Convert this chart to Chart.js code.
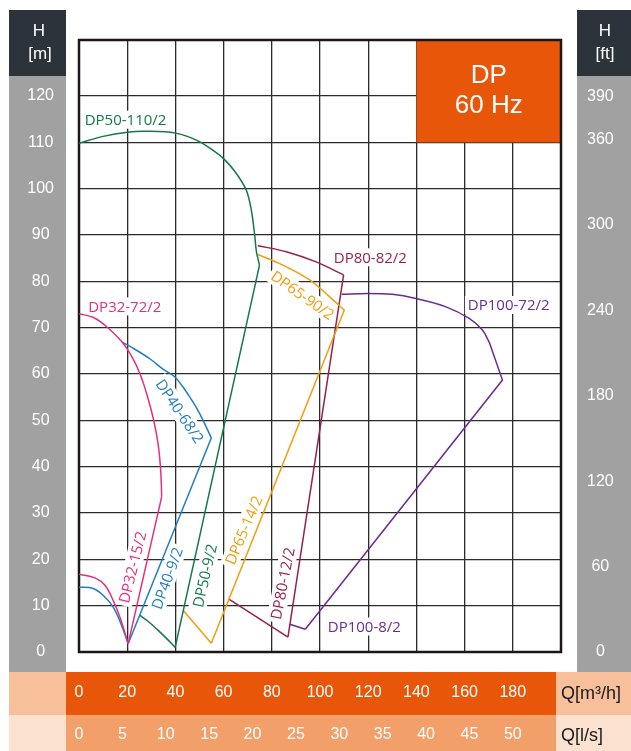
<!DOCTYPE html>
<html><head><meta charset="utf-8">
<script src="https://cdn.jsdelivr.net/npm/chart.js@4.4.0/dist/chart.umd.min.js"></script>
<style>html,body{margin:0;padding:0;background:#fff;overflow:hidden}</style>
</head><body>
<canvas id="c" width="631" height="751"></canvas>
<script>
// ---- tick labels ----
const xTicksM3h = [0,20,40,60,80,100,120,140,160,180];
const xTicksLs  = [0,5,10,15,20,25,30,35,40,45,50];
const yTicksM   = [0,10,20,30,40,50,60,70,80,90,100,110,120];
const yTicksFt  = [0,60,120,180,240,300,360,390];

// ---- series: [Q m3/h, H m] ----
const dp32_72   = [[0,73],[6,72.2],[11.5,70.2],[17.9,66.9],[22,63.7],[25.5,59.8],[28.5,55],[31,50],[32.8,45],[33.8,40],[34.2,35.6],[34.3,33.5]];
const dp32_line = [[34.3,33.5],[20.4,1.8]];
const dp32_15   = [[20.4,1.8],[17,7.5],[14.2,11.1],[10.8,14.4],[6.6,16],[0,16.8]];

const dp40_68   = [[17.9,66.9],[23,65.4],[29.4,63.3],[35,61],[39.7,59.4],[43,57.3],[46,55],[49,52.5],[51.5,50],[54.9,46.2]];
const dp40_line = [[54.9,46.2],[20.4,1.8]];
const dp40_9    = [[20.4,1.8],[17.7,5.7],[14.2,9.7],[10.1,12.2],[5.9,13.7],[0,14.0]];

const dp50_110  = [[0,109.8],[10,111.3],[20,112.2],[28,112.4],[40,112],[48.7,110.5],[55,108.5],[60,106.5],[65,103.5],[69.4,99.7],[71.5,95.4],[72.9,90],[73.6,86.5],[74.9,83.5]];
const dp50_line = [[74.9,83.5],[39.9,1.0]];
const dp50_9    = [[39.9,1.0],[36,3.1],[32.2,5.0],[28.5,6.7],[25.3,7.9]];

const dp65_90   = [[74.2,85.8],[84.6,83.5],[95.7,80.3],[103.9,76.7],[110.1,73.8]];
const dp65_line = [[110.1,73.8],[54.9,1.9]];
const dp65_14   = [[54.9,1.9],[43.2,9.0]];

const dp80_82   = [[74.2,87.7],[86,86.4],[98.4,84.2],[109.8,81.4]];
const dp80_line = [[109.8,81.4],[86.7,3.2]];
const dp80_12   = [[86.7,3.2],[62.2,11.4]];

const dp100_72  = [[109,77.2],[119.8,77.4],[130,77.2],[139.8,76.3],[152.3,74.5],[161.9,72],[167.4,69.5],[170.2,66.9]];
const dp100_line= [[170.2,66.9],[175.7,58.7],[93.9,4.9]];
const dp100_8   = [[93.9,4.9],[87.5,6.0]];

// ---- curve labels (text, Q, H, angle deg) ----
const curveLabels = [
  ['DP50-110/2', 19.3, 114.9, 0, 'green'],
  ['DP32-72/2', 19.0, 74.6, 0, 'pink'],
  ['DP80-82/2', 120.9, 85.2, 0, 'maroon'],
  ['DP100-72/2', 178.3, 74.9, 0, 'purple'],
  ['DP100-8/2', 118.4, 5.5, 0, 'purple'],
  ['DP65-90/2', 92.8, 77.0, 35, 'orange'],
  ['DP40-68/2', 41.8, 52.0, 56, 'blue'],
  ['DP32-15/2', 22.2, 18.3, -76, 'pink'],
  ['DP40-9/2', 36.6, 15.9, -70, 'blue'],
  ['DP50-9/2', 52.2, 16.5, -77, 'green'],
  ['DP65-14/2', 68.3, 26.3, -67, 'orange'],
  ['DP80-12/2', 84.5, 14.8, -79, 'maroon']
];

const COL = {green:'#13794a', pink:'#e62f7c', blue:'#1f7dc5', orange:'#f39c0c', maroon:'#96204f', purple:'#6b2c91'};
const GRAY = '#a0a1a0', DARK = '#2c333a', ORANGE = '#e8560a';
const FT_MAX = 430;

function ds(data, color, curved){
  return {data: data.map(p=>({x:p[0], y:p[1]})), borderColor: color, borderWidth: 1.5,
    showLine: true, pointRadius: 0, tension: curved ? 0.35 : 0, fill: false};
}
const datasets = [
  ds(dp32_72, COL.pink, true), ds(dp32_line, COL.pink, false), ds(dp32_15, COL.pink, true),
  ds(dp40_68, COL.blue, true), ds(dp40_line, COL.blue, false), ds(dp40_9, COL.blue, true),
  ds(dp50_110, COL.green, true), ds(dp50_line, COL.green, false), ds(dp50_9, COL.green, true),
  ds(dp65_90, COL.orange, true), ds(dp65_line, COL.orange, false), ds(dp65_14, COL.orange, false),
  ds(dp80_82, COL.maroon, true), ds(dp80_line, COL.maroon, false), ds(dp80_12, COL.maroon, false),
  ds(dp100_72, COL.purple, true), ds(dp100_line, COL.purple, false), ds(dp100_8, COL.purple, false)
];

const LBLFONT = "15px 'Open Sans', 'Noto Sans', sans-serif";
const decor = {
  id: 'decor',
  beforeDraw(chart){
    const c = chart.ctx; c.save();
    c.fillStyle = '#fff'; c.fillRect(0,0,631,751);
    c.fillStyle = DARK; c.fillRect(9,10,57,66); c.fillRect(577,10,54,66);
    c.fillStyle = GRAY; c.fillRect(9,76,57,596); c.fillRect(577,76,54,596);
    c.fillStyle = '#f7c09b'; c.fillRect(9,672,622,43);
    c.fillStyle = ORANGE; c.fillRect(66,672,490,43);
    c.fillStyle = '#fbe1cf'; c.fillRect(9,715,622,36);
    c.fillStyle = '#f29f69'; c.fillRect(66,715,490,36);
    c.restore();
  },
  beforeDatasetsDraw(chart){
    const c = chart.ctx, a = chart.chartArea, sx = chart.scales.x, sy = chart.scales.y;
    c.save();
    // DP 60 Hz box
    const bx = sx.getPixelForValue(140), by = sy.getPixelForValue(110);
    c.fillStyle = ORANGE; c.fillRect(bx, a.top, a.right - bx, by - a.top);
    c.fillStyle = '#fff'; c.textAlign = 'center'; c.textBaseline = 'middle';
    c.font = "26px 'Liberation Sans', Arial, sans-serif";
    c.fillText('DP', (bx + a.right)/2, 76);
    c.fillText('60 Hz', (bx + a.right)/2, 106);
    // frame
    c.strokeStyle = '#1c1717'; c.lineWidth = 2.5;
    c.strokeRect(a.left, a.top, a.right - a.left, a.bottom - a.top);
    // curve labels
    c.font = LBLFONT;
    for (const [t, q, h, ang, col] of curveLabels){
      const px = sx.getPixelForValue(q), py = sy.getPixelForValue(h);
      c.save(); c.translate(px, py); c.rotate(ang*Math.PI/180);
      const w = c.measureText(t).width;
      c.fillStyle = '#fff'; c.fillRect(-w/2-3, -9, w+6, 18);
      c.fillStyle = COL[col]; c.textAlign = 'center'; c.textBaseline = 'middle';
      c.fillText(t, 0, 1);
      c.restore();
    }
    c.restore();
  },
  afterDraw(chart){
    const c = chart.ctx; c.save();
    c.fillStyle = '#fff'; c.textAlign = 'center'; c.textBaseline = 'middle';
    c.font = "17px 'Liberation Sans', Arial, sans-serif";
    c.fillText('H', 39, 31); c.fillText('[m]', 40, 54);
    c.fillText('H', 605, 31); c.fillText('[ft]', 605, 54);
    c.fillStyle = '#1a1a1a'; c.textAlign = 'left';
    c.font = "18px 'Liberation Sans', Arial, sans-serif";
    c.fillText('Q[m³/h]', 561, 694);
    c.fillText('Q[l/s]', 561, 736);
    c.restore();
  }
};

const tickFont = {family: "'Liberation Sans Narrow', 'Liberation Sans', Arial, sans-serif", size: 16};
const yFont = {family: "'Liberation Sans', Arial, sans-serif", size: 16};
const GRID = {color: '#2e2a2a', lineWidth: 1.3, drawTicks: false};

new Chart(document.getElementById('c'), {
  type: 'scatter',
  data: {datasets},
  options: {
    responsive: false, animation: false,
    layout: {padding: {top: 40, left: 0, right: 0, bottom: 0}},
    plugins: {legend: {display: false}, tooltip: {enabled: false}},
    scales: {
      x: {type: 'linear', position: 'bottom', min: 0, max: 200,
        afterBuildTicks: s => { s.ticks = xTicksM3h.map(v => ({value: v})); },
        afterFit: s => { s.height = 63; },
        grid: GRID, border: {display: false},
        ticks: {color: '#fff', font: tickFont, padding: 31, maxRotation: 0, autoSkip: false}},
      x2: {type: 'linear', position: 'bottom', min: 0, max: 200/3.6,
        afterBuildTicks: s => { s.ticks = xTicksLs.map(v => ({value: v})); },
        afterFit: s => { s.height = 36; },
        grid: {display: false, drawTicks: false}, border: {display: false},
        ticks: {color: '#fff', font: tickFont, padding: 10, maxRotation: 0, autoSkip: false}},
      y: {type: 'linear', position: 'left', min: 0, max: 132.1,
        afterBuildTicks: s => { s.ticks = yTicksM.map(v => ({value: v})); },
        afterFit: s => { s.width = 79; },
        grid: GRID, border: {display: false},
        ticks: {color: '#fff', font: yFont, padding: 25, crossAlign: 'center', autoSkip: false}},
      y2: {type: 'linear', position: 'right', min: 0, max: FT_MAX,
        afterBuildTicks: s => { s.ticks = yTicksFt.map(v => ({value: v})); },
        afterFit: s => { s.width = 70; },
        grid: {display: false, drawTicks: false}, border: {display: false},
        ticks: {color: '#fff', font: yFont, padding: 26, crossAlign: 'center', autoSkip: false}}
    }
  },
  plugins: [decor]
});
</script>
</body></html>
